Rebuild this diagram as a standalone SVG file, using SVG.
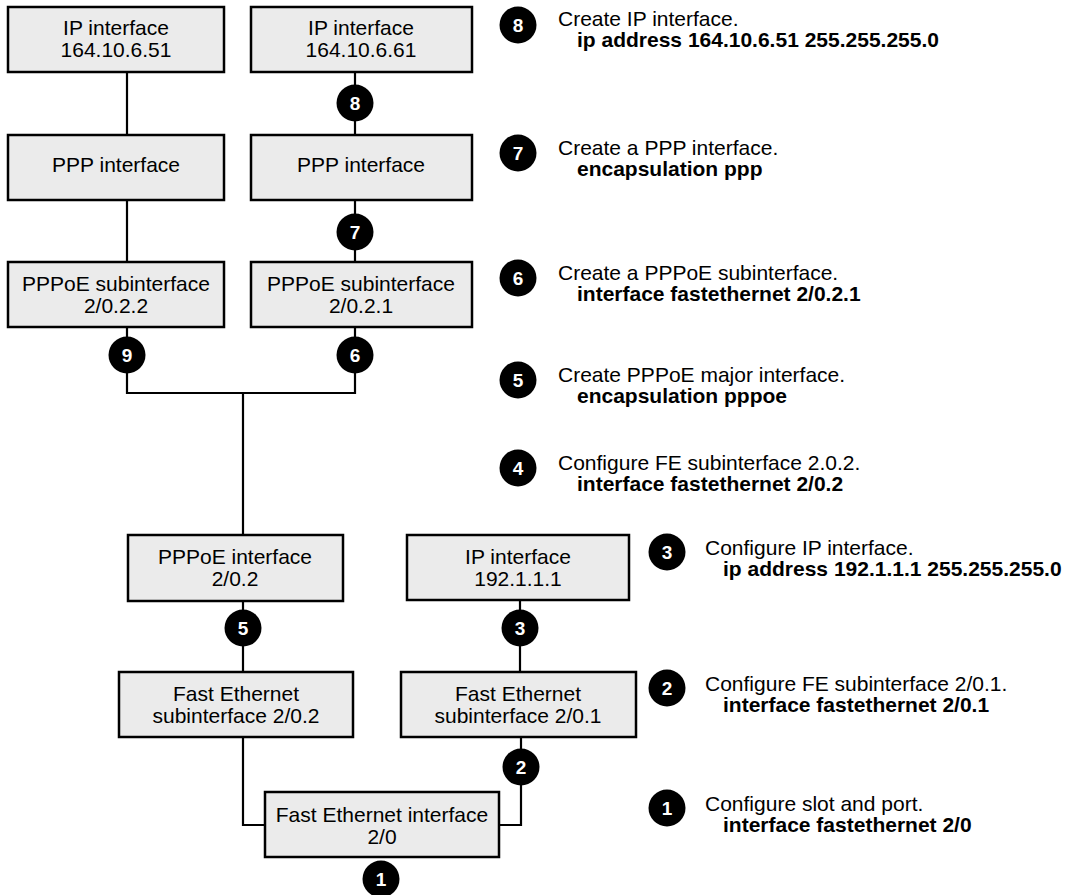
<svg xmlns="http://www.w3.org/2000/svg" width="1072" height="895" viewBox="0 0 1072 895">
<style>
.box{fill:#ebebeb;stroke:#000;stroke-width:2.5}
.t{font-family:"Liberation Sans",Arial,sans-serif;font-size:21px;fill:#000}
.c{text-anchor:middle}
.b{font-weight:bold}
.ln{fill:none;stroke:#000;stroke-width:2.2}
.bd{fill:#000}
.bn{font-family:"Liberation Sans",Arial,sans-serif;font-size:19px;font-weight:bold;fill:#fff;text-anchor:middle}
</style>
<rect width="1072" height="895" fill="#fff"/>
<g id="connectors">
<path class="ln" d="M127 72V135M355 72V135M127 200V262M355 200V262M127 327V393H355V327M243 393V535M243 601V672M520 600V672M243 737V825H265M499 825H521V737"/>
</g>
<g id="n-ip1"><rect class="box" x="8" y="7" width="216" height="65"/><text class="t c" x="116" y="35">IP interface</text><text class="t c" x="116" y="57">164.10.6.51</text></g>
<g id="n-ip2"><rect class="box" x="251" y="7" width="221" height="65"/><text class="t c" x="361" y="35">IP interface</text><text class="t c" x="361" y="57">164.10.6.61</text></g>
<g id="n-ppp1"><rect class="box" x="8" y="135" width="216" height="65"/><text class="t c" x="116" y="172">PPP interface</text></g>
<g id="n-ppp2"><rect class="box" x="251" y="135" width="221" height="65"/><text class="t c" x="361" y="172">PPP interface</text></g>
<g id="n-sub2"><rect class="box" x="8" y="262" width="216" height="65"/><text class="t c" x="116" y="291">PPPoE subinterface</text><text class="t c" x="116" y="313">2/0.2.2</text></g>
<g id="n-sub1"><rect class="box" x="251" y="262" width="221" height="65"/><text class="t c" x="361" y="291">PPPoE subinterface</text><text class="t c" x="361" y="313">2/0.2.1</text></g>
<g id="n-pppoe"><rect class="box" x="128" y="535" width="215" height="66"/><text class="t c" x="235" y="564">PPPoE interface</text><text class="t c" x="235" y="586">2/0.2</text></g>
<g id="n-ip3"><rect class="box" x="407" y="535" width="222" height="65"/><text class="t c" x="518" y="564">IP interface</text><text class="t c" x="518" y="586">192.1.1.1</text></g>
<g id="n-fesub2"><rect class="box" x="119" y="672" width="234" height="65"/><text class="t c" x="236" y="701">Fast Ethernet</text><text class="t c" x="236" y="723">subinterface 2/0.2</text></g>
<g id="n-fesub1"><rect class="box" x="401" y="672" width="235" height="65"/><text class="t c" x="518" y="701">Fast Ethernet</text><text class="t c" x="518" y="723">subinterface 2/0.1</text></g>
<g id="n-fe"><rect class="box" x="265" y="792" width="234" height="65"/><text class="t c" x="382" y="822">Fast Ethernet interface</text><text class="t c" x="382" y="844">2/0</text></g>
<g id="badges">
<circle class="bd" cx="355" cy="103" r="18.5"/><text class="bn" x="355" y="110">8</text>
<circle class="bd" cx="355" cy="232" r="18.5"/><text class="bn" x="355" y="239">7</text>
<circle class="bd" cx="127" cy="355" r="18.5"/><text class="bn" x="127" y="362">9</text>
<circle class="bd" cx="355" cy="355" r="18.5"/><text class="bn" x="355" y="362">6</text>
<circle class="bd" cx="243" cy="628" r="18.5"/><text class="bn" x="243" y="635">5</text>
<circle class="bd" cx="520" cy="628" r="18.5"/><text class="bn" x="520" y="635">3</text>
<circle class="bd" cx="521" cy="767" r="18.5"/><text class="bn" x="521" y="774">2</text>
<circle class="bd" cx="381" cy="879" r="18.5"/><text class="bn" x="381" y="886">1</text>
</g>
<g id="steps">
<circle class="bd" cx="518" cy="25" r="18.5"/><text class="bn" x="518" y="32">8</text>
<text class="t" x="558" y="26">Create IP interface.</text><text class="t b" x="577" y="47">ip address 164.10.6.51 255.255.255.0</text>
<circle class="bd" cx="518" cy="153" r="18.5"/><text class="bn" x="518" y="160">7</text>
<text class="t" x="558" y="155">Create a PPP interface.</text><text class="t b" x="577" y="176">encapsulation ppp</text>
<circle class="bd" cx="518" cy="278" r="18.5"/><text class="bn" x="518" y="285">6</text>
<text class="t" x="558" y="280">Create a PPPoE subinterface.</text><text class="t b" x="577" y="301">interface fastethernet 2/0.2.1</text>
<circle class="bd" cx="518" cy="380" r="18.5"/><text class="bn" x="518" y="387">5</text>
<text class="t" x="558" y="382">Create PPPoE major interface.</text><text class="t b" x="577" y="403">encapsulation pppoe</text>
<circle class="bd" cx="518" cy="468" r="18.5"/><text class="bn" x="518" y="475">4</text>
<text class="t" x="558" y="470">Configure FE subinterface 2.0.2.</text><text class="t b" x="577" y="491">interface fastethernet 2/0.2</text>
<circle class="bd" cx="667" cy="552" r="18.5"/><text class="bn" x="667" y="559">3</text>
<text class="t" x="705" y="555">Configure IP interface.</text><text class="t b" x="723" y="576">ip address 192.1.1.1 255.255.255.0</text>
<circle class="bd" cx="667" cy="688" r="18.5"/><text class="bn" x="667" y="695">2</text>
<text class="t" x="705" y="691">Configure FE subinterface 2/0.1.</text><text class="t b" x="723" y="712">interface fastethernet 2/0.1</text>
<circle class="bd" cx="667" cy="808" r="18.5"/><text class="bn" x="667" y="815">1</text>
<text class="t" x="705" y="811">Configure slot and port.</text><text class="t b" x="723" y="832">interface fastethernet 2/0</text>
</g>
</svg>
